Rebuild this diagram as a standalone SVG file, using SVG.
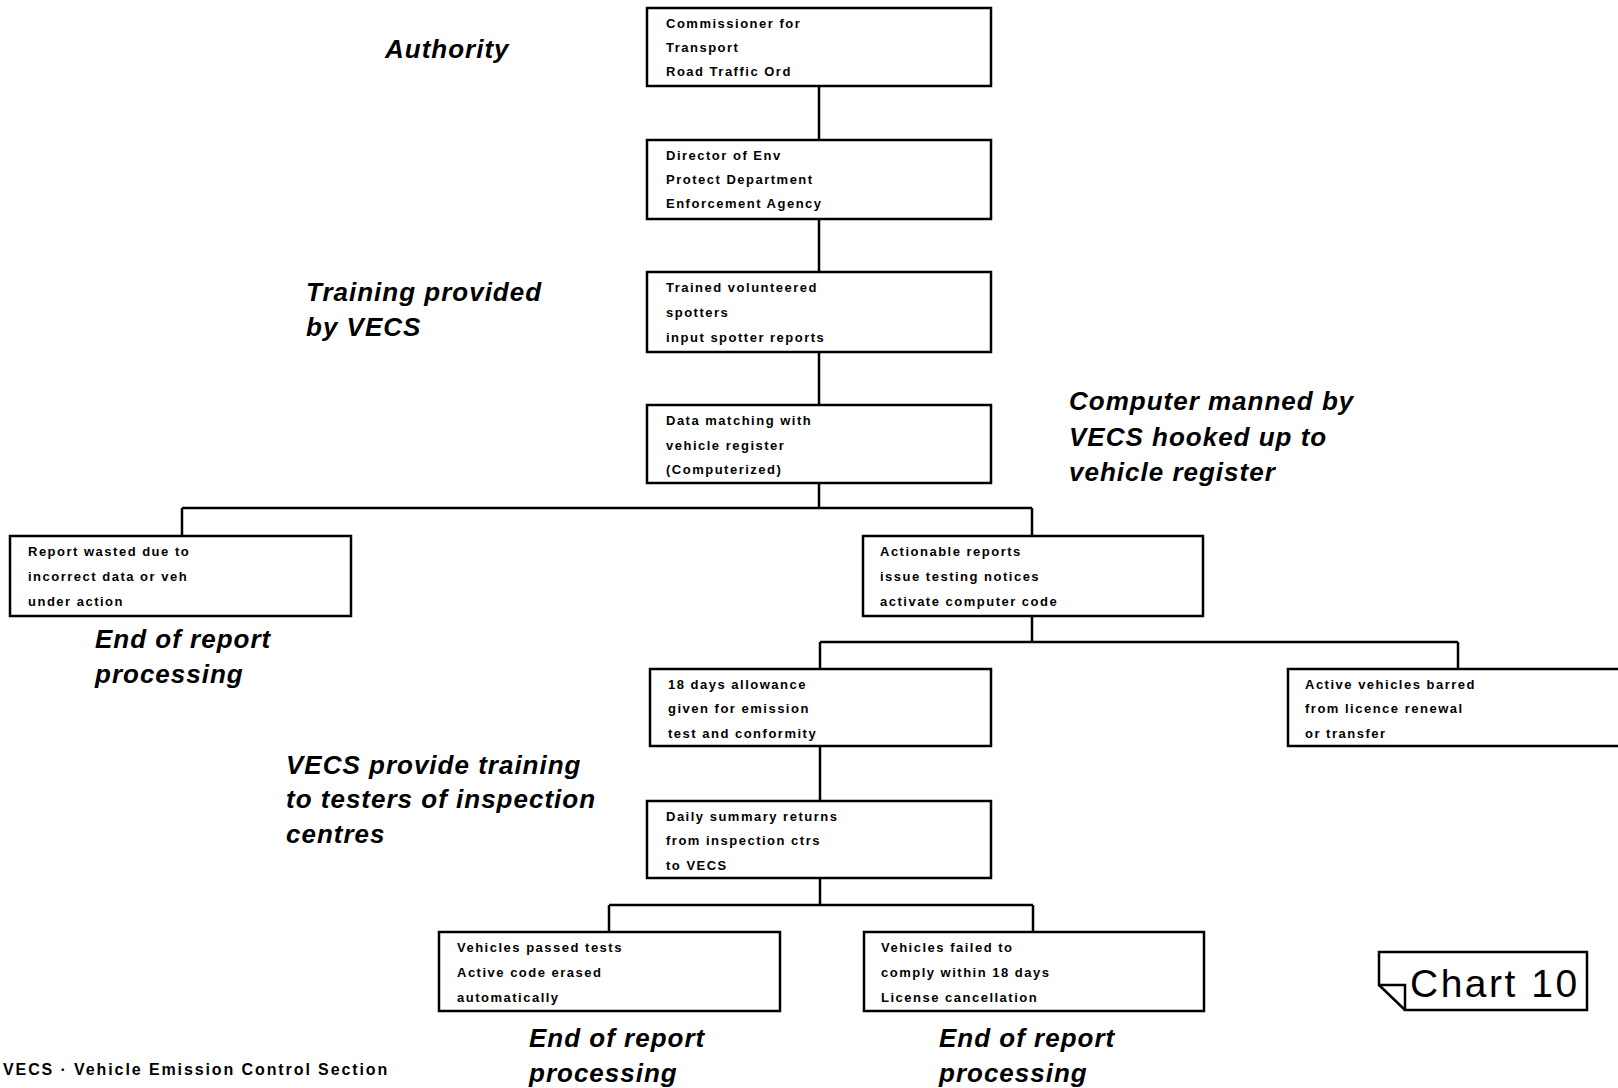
<svg xmlns="http://www.w3.org/2000/svg" width="1618" height="1088" viewBox="0 0 1618 1088">
<style>
.box{fill:#fff;stroke:#000;stroke-width:2.5}
.t{font-family:"Liberation Sans",Arial,sans-serif;font-weight:bold;font-size:13px;letter-spacing:1.5px;fill:#000}
.lab{font-family:"Liberation Sans",Arial,sans-serif;font-weight:bold;font-style:italic;font-size:26px;letter-spacing:1px;fill:#000}
.conn{fill:none;stroke:#000;stroke-width:2.5}
</style>
<rect width="1618" height="1088" fill="#fff"/>
<g id="connectors">
<path class="conn" d="M819 86V140M819 219V272M819 352V405M819 483V508M182 508H1032M182 508V536M1032 508V536M1032 616V642M820 642H1458M820 642V669M1458 642V669M820 746V801M820 878V905M609 905H1033M609 905V932M1033 905V932"/>
</g>
<g id="n1"><rect class="box" x="647" y="8" width="344" height="78"/>
<text class="t" x="666" y="28">Commissioner for</text><text class="t" x="666" y="52">Transport</text><text class="t" x="666" y="76">Road Traffic Ord</text></g>
<g id="n2"><rect class="box" x="647" y="140" width="344" height="79"/>
<text class="t" x="666" y="160">Director of Env</text><text class="t" x="666" y="184">Protect Department</text><text class="t" x="666" y="208">Enforcement Agency</text></g>
<g id="n3"><rect class="box" x="647" y="272" width="344" height="80"/>
<text class="t" x="666" y="292">Trained volunteered</text><text class="t" x="666" y="317">spotters</text><text class="t" x="666" y="342">input spotter reports</text></g>
<g id="n4"><rect class="box" x="647" y="405" width="344" height="78"/>
<text class="t" x="666" y="425">Data matching with</text><text class="t" x="666" y="450">vehicle register</text><text class="t" x="666" y="474">(Computerized)</text></g>
<g id="n5"><rect class="box" x="10" y="536" width="341" height="80"/>
<text class="t" x="28" y="556">Report wasted due to</text><text class="t" x="28" y="581">incorrect data or veh</text><text class="t" x="28" y="606">under action</text></g>
<g id="n6"><rect class="box" x="863" y="536" width="340" height="80"/>
<text class="t" x="880" y="556">Actionable reports</text><text class="t" x="880" y="581">issue testing notices</text><text class="t" x="880" y="606">activate computer code</text></g>
<g id="n7"><rect class="box" x="650" y="669" width="341" height="77"/>
<text class="t" x="668" y="689">18 days allowance</text><text class="t" x="668" y="713">given for emission</text><text class="t" x="668" y="738">test and conformity</text></g>
<g id="n8"><rect class="box" x="1288" y="669" width="345" height="77"/>
<text class="t" x="1305" y="689">Active vehicles barred</text><text class="t" x="1305" y="713">from licence renewal</text><text class="t" x="1305" y="738">or transfer</text></g>
<g id="n9"><rect class="box" x="647" y="801" width="344" height="77"/>
<text class="t" x="666" y="821">Daily summary returns</text><text class="t" x="666" y="845">from inspection ctrs</text><text class="t" x="666" y="870">to VECS</text></g>
<g id="n10"><rect class="box" x="439" y="932" width="341" height="79"/>
<text class="t" x="457" y="952">Vehicles passed tests</text><text class="t" x="457" y="977">Active code erased</text><text class="t" x="457" y="1002">automatically</text></g>
<g id="n11"><rect class="box" x="864" y="932" width="340" height="79"/>
<text class="t" x="881" y="952">Vehicles failed to</text><text class="t" x="881" y="977">comply within 18 days</text><text class="t" x="881" y="1002">License cancellation</text></g>
<g id="labels">
<text class="lab" x="385" y="58">Authority</text>
<text class="lab" x="306" y="301">Training provided</text><text class="lab" x="306" y="336">by VECS</text>
<text class="lab" x="1069" y="410">Computer manned by</text><text class="lab" x="1069" y="446">VECS hooked up to</text><text class="lab" x="1069" y="481">vehicle register</text>
<text class="lab" x="95" y="648">End of report</text><text class="lab" x="95" y="683">processing</text>
<text class="lab" x="286" y="774">VECS provide training</text><text class="lab" x="286" y="808">to testers of inspection</text><text class="lab" x="286" y="843">centres</text>
<text class="lab" x="529" y="1047">End of report</text><text class="lab" x="529" y="1082">processing</text>
<text class="lab" x="939" y="1047">End of report</text><text class="lab" x="939" y="1082">processing</text>
<text x="3" y="1075" style="font-family:'Liberation Sans',Arial,sans-serif;font-weight:bold;font-size:16px;letter-spacing:1.9px">VECS · Vehicle Emission Control Section</text>
</g>
<g id="chart">
<path d="M1379 952H1587V1010H1405V985H1379Z" fill="#fff" stroke="#000" stroke-width="2.5"/>
<path d="M1379 985L1405 1010" fill="none" stroke="#000" stroke-width="2.5"/>
<text x="1410" y="997" style="font-family:'Liberation Sans',Arial,sans-serif;font-size:39px;letter-spacing:2.5px">Chart 10</text>
</g>
</svg>
